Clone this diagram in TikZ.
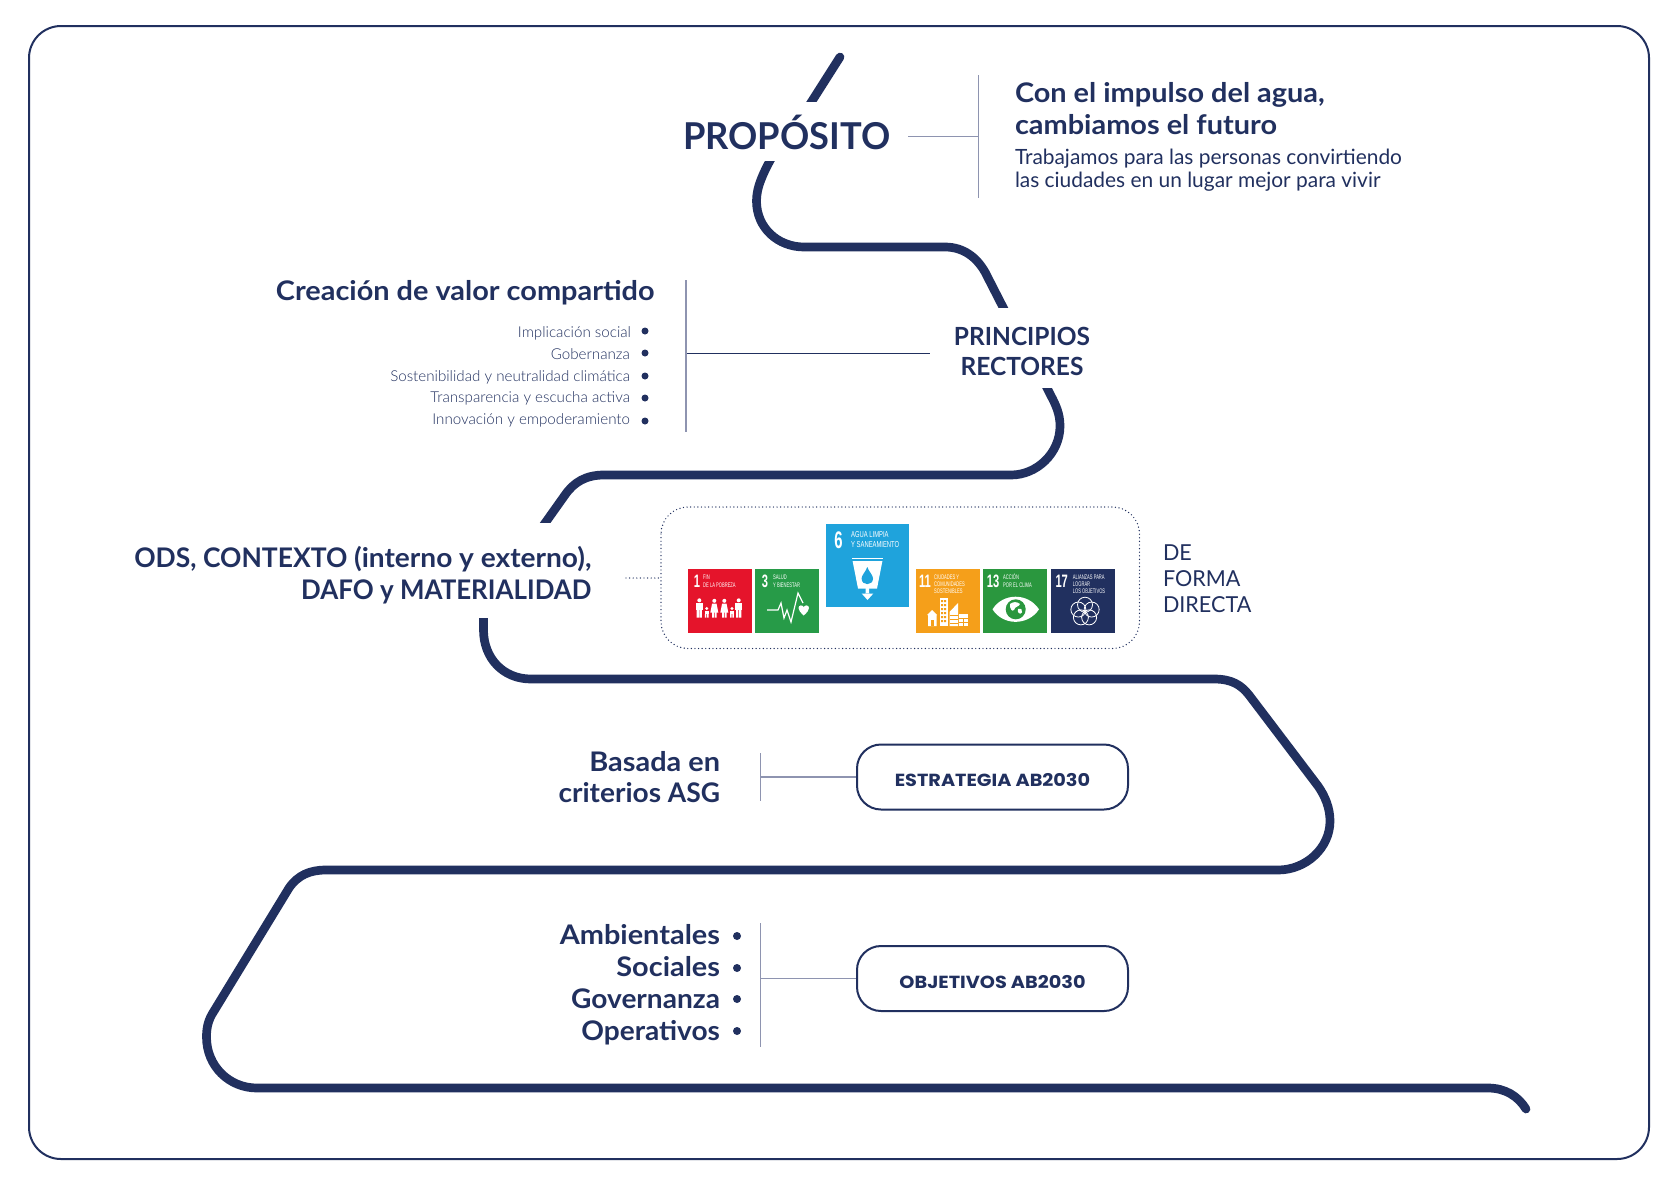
\documentclass[tikz,border=0pt]{standalone}
\usepackage{fontspec}
\usetikzlibrary{calc}
\setmainfont{Lato}
\newfontfamily\headfont[FakeStretch=1.07]{Lato}
\newfontfamily\midfont[FakeStretch=1.04]{Lato}
\newfontfamily\capfont[FakeStretch=.98]{Lato}
\newfontfamily\dafofont[FakeStretch=.96]{Lato}
\newfontfamily\lightfont[FakeStretch=1.01]{Lato Light}
\newfontfamily\subfont[FakeStretch=.995]{Lato}
\newfontfamily\pillfont[FakeStretch=1.1]{Poppins}
\newfontfamily\sdgfont[FakeStretch=.62]{Liberation Sans}
\newfontfamily\sdgwide[FakeStretch=.68]{Liberation Sans}
\definecolor{navy}{HTML}{21305F}
\definecolor{thin}{HTML}{8E94B0}
\definecolor{sdgred}{HTML}{E5142B}
\definecolor{sdggreen}{HTML}{279B48}
\definecolor{sdgblue}{HTML}{1FA3DC}
\definecolor{sdgorange}{HTML}{F59F1A}
\definecolor{sdgclimate}{HTML}{2A973E}
\newcommand\fsz[1]{\fontsize{#1}{#1}\selectfont}
\tikzset{
  x=1pt,y=-1pt,
  ribbon/.style={draw=navy,line width=8.7pt,line join=round},
  thinline/.style={draw=thin,line width=1.3pt},
  darkline/.style={draw=navy,line width=1pt},
  txt/.style={inner sep=0,outer sep=0,text=navy},
  big/.style={txt,font=\headfont\bfseries\fsz{27}},
  mid/.style={txt,font=\midfont\bfseries\fsz{27}},
  caps/.style={txt,font=\dafofont\bfseries\fsz{27}},
  item/.style={txt,font=\lightfont\fsz{15}},
  sub/.style={txt,font=\subfont\fsz{21}},
  pill/.style={draw=navy,line width=2pt,rounded corners=24pt,fill=white},
  bul/.style={circle,fill=navy,inner sep=0,minimum size=7pt},
  sdgbox/.style={inner sep=0,outer sep=0,anchor=north west,minimum width=64pt,minimum height=64pt},
  sdgnum/.style={inner sep=0,text=white,font=\sdgfont\bfseries\fsz{18}},
  sdgtxt/.style={inner sep=0,text=white,anchor=base west,font=\sdgfont\fsz{6.6}},
  sixtxt/.style={sdgtxt,font=\sdgwide\fsz{8.6}},
  pilltxt/.style={txt,font=\pillfont\bfseries\fsz{17.5},anchor=base},
  dots/.style={navy,line width=1.4pt,line cap=round,dash pattern=on 0pt off 3.6pt},
}
\begin{document}
\begin{tikzpicture}
\useasboundingbox (0,0) rectangle (1677,1184);
\fill[white] (0,0) rectangle (1677,1184);
\draw[navy,line width=2pt,rounded corners=32pt] (29,26) rectangle (1649,1159);

% ribbon
\begin{scope}\clip (780,40) rectangle (860,101.5);
\draw[ribbon,line cap=round] (840,57) -- (805,112);
\end{scope}
\begin{scope}\clip (700,161) rectangle (1100,307);
\draw[ribbon] (776,150) .. controls (762,174) and (756.5,188) .. (756.5,201)
 .. controls (756.5,228) and (778,247) .. (804,247) -- (945,247)
 .. controls (964,247) and (977,258) .. (985,272) -- (1007,315);
\end{scope}
\begin{scope}\clip (500,388) rectangle (1100,522);
\draw[ribbon] (1042,378) -- (1050,394) .. controls (1056,405) and (1060,414) .. (1060,426)
 .. controls (1060,453) and (1037,475) .. (1011,475) -- (604,475)
 .. controls (586,475) and (574,482) .. (565,495) -- (538,533);
\end{scope}
\begin{scope}\clip (150,618) rectangle (1600,1140);
\draw[ribbon,line cap=round] (483.5,610) -- (483.5,630) .. controls (483.5,658) and (503,679) .. (531,679) -- (1214,679)
 .. controls (1232,679) and (1241,685) .. (1249,695) -- (1318,786)
 .. controls (1325,796) and (1330,808) .. (1330,821)
 .. controls (1330,848) and (1306,870) .. (1278,870) -- (326,870)
 .. controls (310,870) and (298,875) .. (289,888) -- (214,1011)
 .. controls (208,1020) and (206.5,1028) .. (206.5,1037)
 .. controls (206.5,1066) and (229,1088) .. (257,1088) -- (1488,1088)
 .. controls (1505,1088) and (1518,1096) .. (1526,1109);
\end{scope}

% PROPOSITO
\node[txt,anchor=base west,font=\capfont\bfseries\fsz{37}] (proposito) at (683,149) {PROPÓSITO};
\coordinate (pa) at (908,136.7); \coordinate (pb) at (978.5,136.7);
\coordinate (pc) at (978.5,75); \coordinate (pd) at (978.5,198);
\draw[thinline] (pa) -- (pb); \draw[thinline] (pc) -- (pd);
\node[big,anchor=base west] (con) at (1015,102) {Con el impulso del agua,};
\node[big,anchor=base west] (cam) at (1015,134) {cambiamos el futuro};
\node[sub,anchor=base west] (tra) at (1015,164) {Trabajamos para las personas convirtiendo};
\node[sub,anchor=base west] (las) at (1015,187) {las ciudades en un lugar mejor para vivir};

% PRINCIPIOS
\node[txt,anchor=base,font=\capfont\bfseries\fsz{25}] (pr1) at (1022,345) {PRINCIPIOS};
\node[txt,anchor=base,font=\capfont\bfseries\fsz{25}] (pr2) at (1022,375) {RECTORES};
\coordinate (qa) at (686,353); \coordinate (qb) at (930,353);
\coordinate (qc) at (686,280); \coordinate (qd) at (686,432);
\draw[darkline] (qa) -- (qb); \draw[thinline] (qc) -- (qd);
\node[big,anchor=base east] (crea) at (654.5,300) {Creación de valor compartido};
\node[item,anchor=base east] (i1) at (631,337) {Implicación social};
\node[item,anchor=base east] (i2) at (630,359) {Gobernanza};
\node[item,anchor=base east] (i3) at (630,381) {Sostenibilidad y neutralidad climática};
\node[item,anchor=base east] (i4) at (630,402) {Transparencia y escucha activa};
\node[item,anchor=base east] (i5) at (630,424) {Innovación y empoderamiento};
\node[bul] (b1) at (645,331) {}; \node[bul] (b2) at (645,353) {}; \node[bul] (b3) at (645,376) {};
\node[bul] (b4) at (645,398) {}; \node[bul] (b5) at (645,421) {};

% ODS
\node[mid,anchor=base east] (ods1) at (591.5,567) {{\capfont\bfseries ODS, CONTEXTO} (interno y externo),};
\node[caps,anchor=base east] (ods2) at (591.5,599.5) {DAFO y MATERIALIDAD};
\coordinate (da) at (626,578); \coordinate (db) at (660,578);
\draw[dots] (da) -- (db);
\draw[dots,rounded corners=27pt] (661,507) rectangle (1139.5,648.5);

% SDG 1
\node[sdgbox,fill=sdgred] (s1) at (688,569) {};
\node[sdgnum] (s1n) at (697,581) {1};
\node[sdgtxt] (s1a) at (703,579.5) {FIN};
\node[sdgtxt] (s1b) at (703,587.5) {DE LA POBREZA};
\foreach \px in {699.3,738.7}{
  \fill[white] (\px,600.3) circle (2pt);
  \fill[white] (\px-3.5,603) rectangle (\px+3.5,610);
  \fill[white] (\px-2.6,610) rectangle (\px-.3,617.5) (\px+.3,610) rectangle (\px+2.6,617.5);
}
\foreach \px in {714.3,724.3}{
  \fill[white] (\px,600.8) circle (2pt);
  \fill[white] (\px-2.2,603.5) -- (\px+2.2,603.5) -- (\px+4,612.5) -- (\px-4,612.5) -- cycle;
  \fill[white] (\px-2.2,612) rectangle (\px-.4,617.5) (\px+.4,612) rectangle (\px+2.2,617.5);
}
\foreach \px in {706.7,732}{
  \fill[white] (\px,608.5) circle (1.6pt);
  \fill[white] (\px-2.2,610.5) rectangle (\px+2.2,614);
  \fill[white] (\px-1.8,614) rectangle (\px-.3,617.5) (\px+.3,614) rectangle (\px+1.8,617.5);
}
% SDG 3
\node[sdgbox,fill=sdggreen] (s3) at (755,569) {};
\node[sdgnum] (s3n) at (765,581) {3};
\node[sdgtxt] (s3a) at (773,579.5) {SALUD};
\node[sdgtxt] (s3b) at (773,587.5) {Y BIENESTAR};
\draw[white,line width=1.2pt,line join=miter] (767,610) -- (778,610) -- (781,603) -- (784,618) -- (787,610) -- (791,622) -- (798,593) -- (803,603);
\fill[white] (803.7,615.5) .. controls (800,612) and (798.5,610) .. (798.5,608) .. controls (798.5,605) and (802.5,604.5) .. (803.7,607) .. controls (805,604.5) and (809,605) .. (809,608) .. controls (809,610) and (807.5,612) .. (803.7,615.5) -- cycle;
% SDG 6
\node[sdgbox,fill=sdgblue,minimum width=83.5pt,minimum height=83pt] (s6) at (825.7,524) {};
\node[sdgnum,font=\sdgfont\bfseries\fsz{24}] (s6n) at (838.5,540) {6};
\node[sixtxt] (s6a) at (851,537.5) {AGUA LIMPIA};
\node[sixtxt] (s6b) at (851,547.5) {Y SANEAMIENTO};
\draw[white,line width=.8pt] (852.3,558.3) -- (882.7,558.3);
\fill[white] (852.6,561) -- (882.4,561) -- (877,588.5) -- (858,588.5) -- cycle;
\fill[sdgblue] (867.3,567) .. controls (869,572) and (873,575) .. (873,578.5) .. controls (873,586) and (861.6,586) .. (861.6,578.5) .. controls (861.6,575) and (865.6,572) .. (867.3,567) -- cycle;
\fill[white] (865.6,588) rectangle (869,594) (861.7,593.5) -- (873.3,593.5) -- (867.5,600) -- cycle;
% SDG 11
\node[sdgbox,fill=sdgorange] (s11) at (915.7,569) {};
\node[sdgnum] (s11n) at (925,581) {11};
\node[sdgtxt] (s11a) at (934,579.5) {CIUDADES Y};
\node[sdgtxt] (s11b) at (934,586.5) {COMUNIDADES};
\node[sdgtxt] (s11c) at (934,593.5) {SOSTENIBLES};
\fill[white] (928,626) -- (928,615) -- (927,615) -- (932,610) -- (937,615) -- (936.5,615) -- (936.5,626) -- cycle;
\fill[sdgorange] (931,620) rectangle (934,626);
\fill[white] (939.5,597.5) rectangle (947.5,626);
\foreach \yy in {600,604,608,612,616,620}{\fill[sdgorange] (941,\yy) rectangle (943,\yy+2) (944,\yy) rectangle (946,\yy+2);}
\fill[white] (949.5,626) -- (949.5,612) -- (958,603) -- (958,626) -- cycle;
\foreach \yy in {615,619,623}{\draw[sdgorange,line width=.7pt] (950,\yy) -- (958,\yy);}
\fill[white] (959,614) rectangle (968,626);
\draw[sdgorange,line width=.7pt] (959,618) -- (968,618) (959,622) -- (968,622) (963.5,618) -- (963.5,626);
% SDG 13
\node[sdgbox,fill=sdgclimate] (s13) at (983,569) {};
\node[sdgnum] (s13n) at (993,581) {13};
\node[sdgtxt] (s13a) at (1003,579.5) {ACCIÓN};
\node[sdgtxt] (s13b) at (1003,587.5) {POR EL CLIMA};
\fill[white] (992.5,609.3) .. controls (1003,592.5) and (1028,592.5) .. (1039,609.3) .. controls (1028,626) and (1003,626) .. (992.5,609.3) -- cycle;
\fill[sdgclimate] (1015.7,609.3) circle (10pt);
\fill[white] (1010,604) .. controls (1013,601.5) and (1017,601.5) .. (1020,604) .. controls (1019,607) and (1015,606) .. (1014,610) .. controls (1012,612.5) and (1009.5,608) .. (1010,604) -- cycle;
\fill[white] (1018,609) .. controls (1021,608) and (1023,610) .. (1022,612.5) .. controls (1020,615) and (1017,613) .. (1018,609) -- cycle;
% SDG 17
\node[sdgbox,fill=navy] (s17) at (1051,569) {};
\node[sdgnum] (s17n) at (1061.7,581) {17};
\node[sdgtxt] (s17a) at (1072.7,579.5) {ALIANZAS PARA};
\node[sdgtxt] (s17b) at (1072.7,586.5) {LOGRAR};
\node[sdgtxt] (s17c) at (1072.7,593.5) {LOS OBJETIVOS};
\foreach \aa in {90,162,234,306,378}{
  \draw[white,line width=.8pt] ($(1085,611.7)+(\aa:7pt)$) circle (7.5pt);
}
\node[sub,anchor=base west,font=\capfont\fsz{22}] (de1) at (1163,560) {DE};
\node[sub,anchor=base west,font=\capfont\fsz{22}] (de2) at (1163,586.5) {FORMA};
\node[sub,anchor=base west,font=\capfont\fsz{22}] (de3) at (1163,612) {DIRECTA};

% ESTRATEGIA
\node[big,anchor=base east] (ba1) at (720,771) {Basada en};
\node[mid,anchor=base east] (ba2) at (720,802) {criterios {\capfont\bfseries ASG}};
\node[pill,minimum width=271pt,minimum height=65pt,anchor=center] (estr) at (992.5,777) {};
\node[pilltxt] (estrt) at (992.5,786) {ESTRATEGIA AB2030};
\coordinate (ea) at (760.5,777); \coordinate (eb) at (760.5,753); \coordinate (ec) at (760.5,801);
\draw[thinline] (eb) -- (ec); \draw[thinline] (ea) -- (estr.west);

% OBJETIVOS
\node[big,anchor=base east] (am) at (720,944) {Ambientales};
\node[big,anchor=base east] (so) at (720,976) {Sociales};
\node[mid,anchor=base east] (go) at (720,1008) {Governanza};
\node[mid,anchor=base east] (op) at (720,1040) {Operativos};
\node[bul,minimum size=8pt] (c1) at (737,936) {}; \node[bul,minimum size=8pt] (c2) at (737,968) {};
\node[bul,minimum size=8pt] (c3) at (737,999) {}; \node[bul,minimum size=8pt] (c4) at (737,1031) {};
\node[pill,minimum width=271pt,minimum height=65pt,anchor=center] (obj) at (992.5,978.5) {};
\node[pilltxt] (objt) at (992.5,988) {OBJETIVOS AB2030};
\coordinate (oa) at (760.5,978.5); \coordinate (ob) at (760.5,923); \coordinate (oc) at (760.5,1047);
\draw[thinline] (ob) -- (oc); \draw[thinline] (oa) -- (obj.west);
\end{tikzpicture}
\end{document}
